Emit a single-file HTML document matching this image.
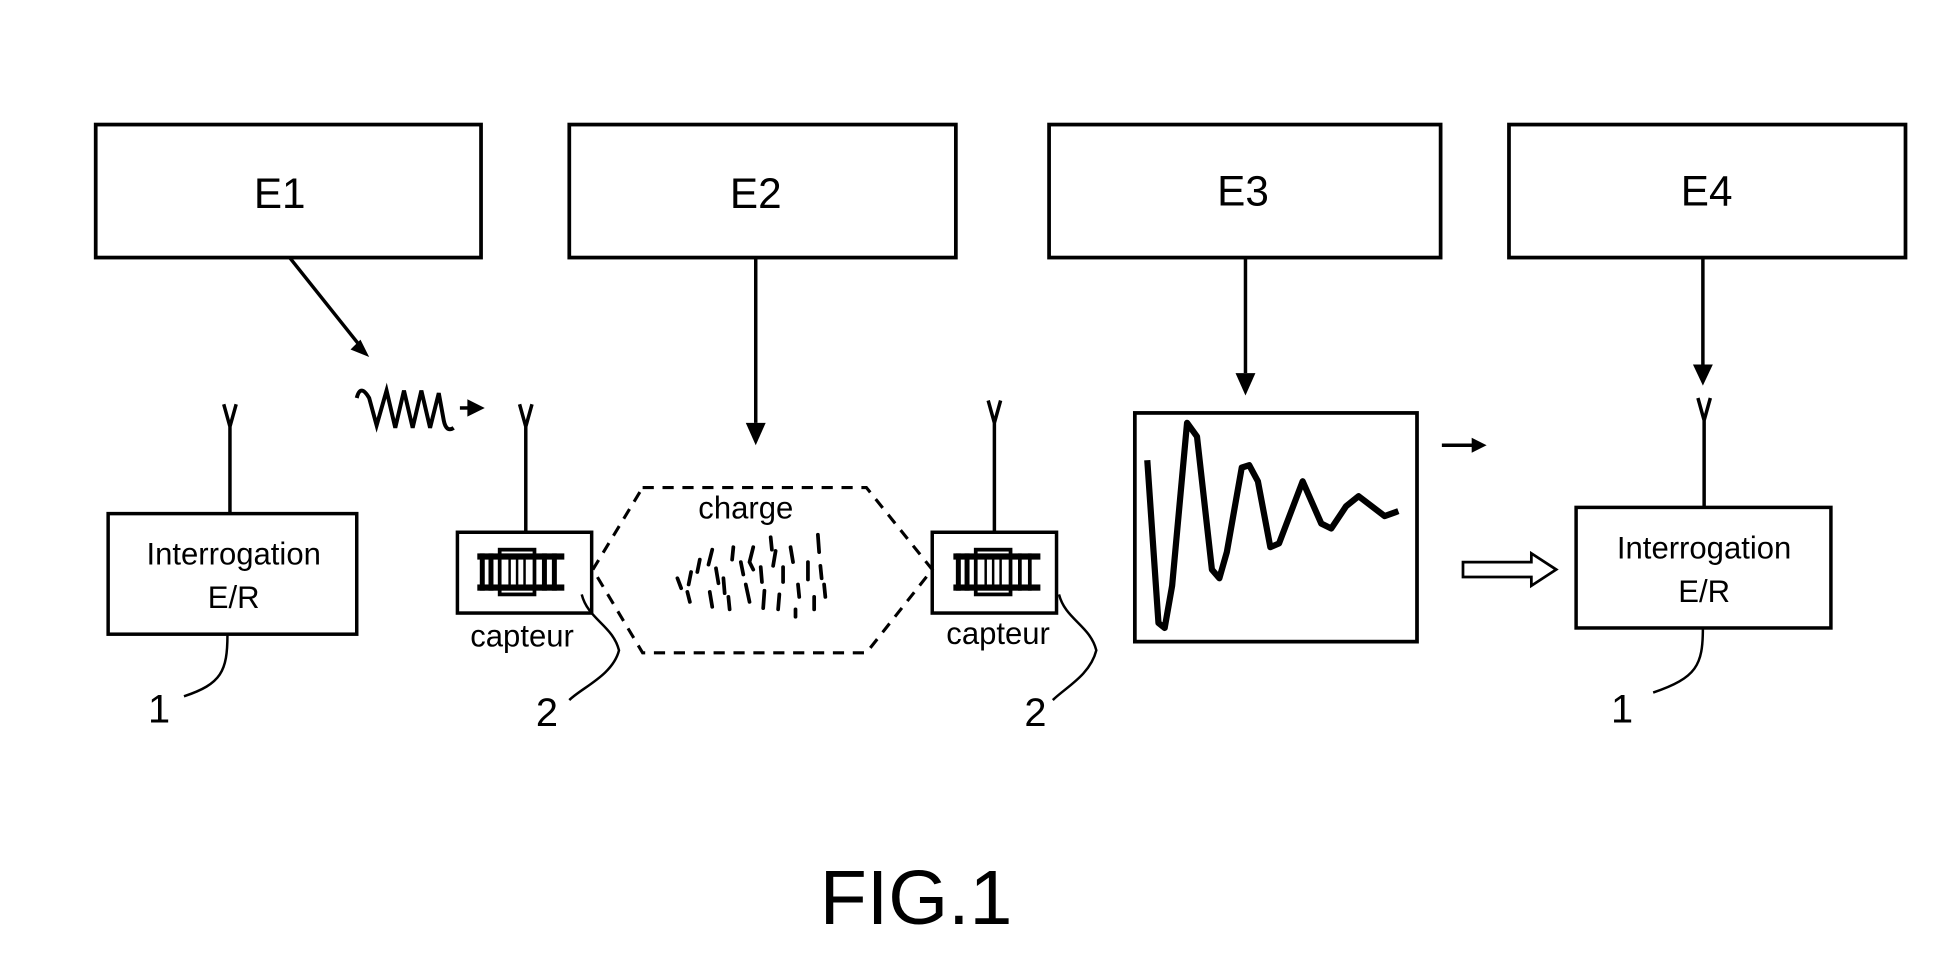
<!DOCTYPE html>
<html><head><meta charset="utf-8"><style>
html,body{margin:0;padding:0;background:#fff;}
svg{display:block;}
text{font-family:"Liberation Sans",sans-serif;fill:#000;}
</style></head><body>
<svg width="1949" height="980" viewBox="0 0 1568 788" xmlns="http://www.w3.org/2000/svg">
<g fill="none" stroke="#000" stroke-width="3">
<rect x="77" y="100" width="310" height="107"/>
<rect x="458" y="100" width="311" height="107"/>
<rect x="844" y="100" width="315" height="107"/>
<rect x="1214" y="100" width="319" height="107"/>
</g>
<g font-size="34" text-anchor="middle">
<text x="225" y="167">E1</text><text x="608" y="167">E2</text>
<text x="1000" y="165">E3</text><text x="1373" y="165">E4</text>
</g>
<g stroke="#000" stroke-width="2.8" fill="none">
<line x1="233" y1="207" x2="288" y2="276"/>
<path d="M297,287 l-15,-6 l8,-8 z" fill="#000" stroke="none"/>
<line x1="608" y1="207" x2="608" y2="340"/>
<path d="M600,340 l16,0 l-8,18 z" fill="#000" stroke="none"/>
<line x1="1002" y1="207" x2="1002" y2="300"/>
<path d="M994,300 l16,0 l-8,18 z" fill="#000" stroke="none"/>
<line x1="1370" y1="207" x2="1370" y2="293"/>
<path d="M1362,293 l16,0 l-8,17 z" fill="#000" stroke="none"/>
<path d="M287,320 q3,-12 10,0 l6,22 l8,-28 l7,30 l7,-30 l7,30 l7,-30 l7,30 l7,-28 l4,22 q2,10 8,6" stroke-width="3.2"/>
<line x1="370" y1="328" x2="378" y2="328"/>
<path d="M376,321 l14,7 l-14,7 z" fill="#000" stroke="none"/>
<line x1="1160" y1="358" x2="1185" y2="358"/>
<path d="M1184,352 l12,6 l-12,6 z" fill="#000" stroke="none"/>
<path d="M1177,452 h55 v-7 l20,13 l-20,13 v-7 h-55 z" stroke-width="2.2"/>
<path d="M180,325 l5,18 l5,-18 M185,343 v70"/>
<path d="M418,325 l5,18 l5,-18 M423,343 v85"/>
<path d="M795,322 l5,18 l5,-18 M800,340 v88"/>
<path d="M1366,320 l5,18 l5,-18 M1371,338 v70"/>
<rect x="87" y="413" width="200" height="97"/>
<rect x="1268" y="408" width="205" height="97"/>
<rect x="368" y="428" width="108" height="65"/>
<rect x="750" y="428" width="100" height="65"/>
<rect x="913" y="332" width="227" height="184" stroke-width="3"/>
<path d="M517,392 H697 L750,458 L697,525 H517 L477,458 Z" stroke-dasharray="9,7" stroke-width="2.5"/>
<path d="M183,510 c0,30 -5,40 -35,50" stroke-width="2"/>
<path d="M468,478 c5,20 25,25 30,45 c-5,20 -30,30 -40,40" stroke-width="2"/>
<path d="M852,478 c5,20 25,25 30,45 c-5,20 -25,30 -35,40" stroke-width="2"/>
<path d="M1370,505 c0,30 -5,40 -40,52" stroke-width="2"/>
<path d="M923,370 L932,501 L937,505 L943,471 L955,340 L963,351 L975,458 L981,465 L987,444 L999,376 L1005,374 L1012,387 L1022,440 L1029,437 L1048,387 L1063,421 L1071,425 L1083,407 L1093,399 L1114,415 L1125,411" stroke-width="5" stroke-linejoin="round"/>
</g>
<g fill="#000">
<rect x="384" y="445" width="70" height="5"/><rect x="384" y="470" width="70" height="5"/>
<rect x="386" y="445" width="4" height="30"/><rect x="393" y="445" width="4" height="30"/>
<rect x="402" y="442" width="28" height="36" fill="none" stroke="#000" stroke-width="3"/>
<rect x="409" y="448" width="2" height="24"/><rect x="415" y="448" width="2" height="24"/><rect x="421" y="448" width="2" height="24"/>
<rect x="436" y="445" width="4" height="30"/><rect x="444" y="445" width="4" height="30"/>
<rect x="767" y="445" width="70" height="5"/><rect x="767" y="470" width="70" height="5"/>
<rect x="769" y="445" width="4" height="30"/><rect x="776" y="445" width="4" height="30"/>
<rect x="785" y="442" width="28" height="36" fill="none" stroke="#000" stroke-width="3"/>
<rect x="792" y="448" width="2" height="24"/><rect x="798" y="448" width="2" height="24"/><rect x="804" y="448" width="2" height="24"/>
<rect x="819" y="445" width="3" height="30"/><rect x="827" y="445" width="3" height="30"/>
</g>
<g stroke="#000" stroke-width="3" stroke-linecap="round" fill="none">
<path d="M545,465 l3,8"/><path d="M556,460 l-2,10"/><path d="M563,450 l-2,10"/><path d="M573,442 l-3,12"/>
<path d="M576,457 l2,12"/><path d="M571,476 l2,12"/><path d="M582,465 l1,12"/><path d="M590,440 l-1,10"/>
<path d="M596,452 l2,10"/><path d="M600,470 l3,14"/><path d="M606,440 l-3,12 l3,6"/><path d="M612,456 l1,12"/>
<path d="M615,475 l-1,14"/><path d="M624,443 l-2,12"/><path d="M630,456 l0,12"/><path d="M627,478 l-1,12"/>
<path d="M636,440 l2,12"/><path d="M642,470 l1,10"/><path d="M650,452 l0,14"/><path d="M658,430 l1,14"/>
<path d="M660,455 l1,10"/><path d="M655,480 l0,10"/><path d="M663,470 l1,10"/><path d="M620,432 l1,10"/>
<path d="M586,480 l1,10"/><path d="M640,490 l0,6"/><path d="M553,476 l2,8"/>
</g>
<g font-size="25" text-anchor="middle">
<text x="188" y="454">Interrogation</text><text x="188" y="489">E/R</text>
<text x="1371" y="449">Interrogation</text><text x="1371" y="484">E/R</text>
<text x="420" y="520">capteur</text><text x="803" y="518">capteur</text>
<text x="600" y="417">charge</text>
</g>
<g font-size="32" text-anchor="middle">
<text x="128" y="581">1</text><text x="440" y="584">2</text><text x="833" y="584">2</text><text x="1305" y="581">1</text>
</g>
<text x="737" y="743" font-size="62" text-anchor="middle">FIG.1</text>
</svg>
</body></html>
